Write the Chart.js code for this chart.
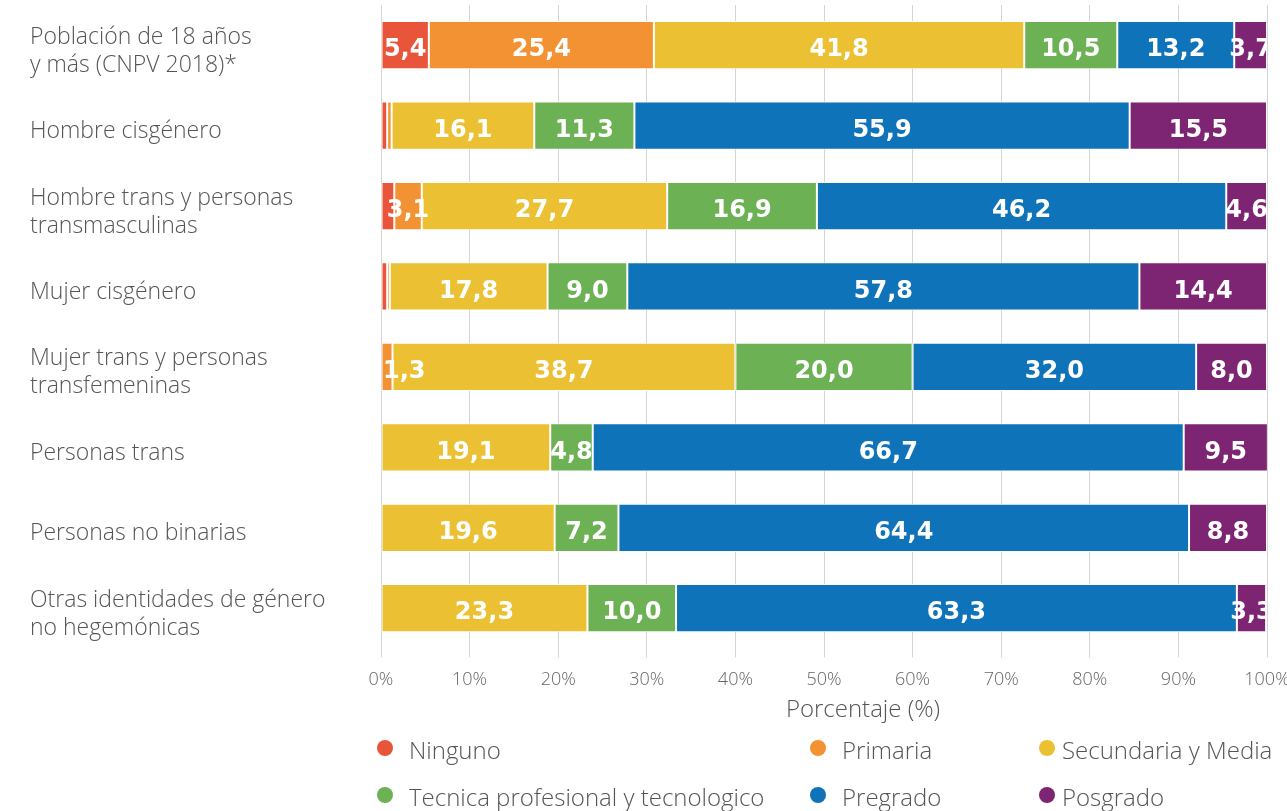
<!DOCTYPE html>
<html lang="es">
<head>
<meta charset="utf-8">
<title>Nivel educativo por identidad de género</title>
<script src="https://cdn.jsdelivr.net/npm/chart.js@4/dist/chart.umd.min.js"></script>
<style>
  html, body { margin: 0; padding: 0; background: #fff; }
  #wrap { width: 1287px; height: 811px; }
</style>
</head>
<body>
<div id="wrap"><canvas id="eduChart"></canvas></div>
<script>
'use strict';

// #region ***  Data                                     ***********
const categories = [
  ['Población de 18 años', 'y más (CNPV 2018)*'],
  'Hombre cisgénero',
  ['Hombre trans y personas', 'transmasculinas'],
  'Mujer cisgénero',
  ['Mujer trans y personas', 'transfemeninas'],
  'Personas trans',
  'Personas no binarias',
  ['Otras identidades de género', 'no hegemónicas']
];
const seriesNames = ['Ninguno', 'Primaria', 'Secundaria y Media', 'Tecnica profesional y tecnologico', 'Pregrado', 'Posgrado'];
const ninguno    = [5.4, 0.7, 1.5, 0.7, 0, 0, 0, 0];
const primaria   = [25.4, 0.5, 3.1, 0.3, 1.3, 0, 0, 0];
const secundaria = [41.8, 16.1, 27.7, 17.8, 38.7, 19.1, 19.6, 23.3];
const tecnica    = [10.5, 11.3, 16.9, 9.0, 20.0, 4.8, 7.2, 10.0];
const pregrado   = [13.2, 55.9, 46.2, 57.8, 32.0, 66.7, 64.4, 63.3];
const posgrado   = [3.7, 15.5, 4.6, 14.4, 8.0, 9.5, 8.8, 3.3];
const xTicks = [0, 10, 20, 30, 40, 50, 60, 70, 80, 90, 100];
const xTitle = 'Porcentaje (%)';
const colors = ['#E9553A', '#F29232', '#EBC133', '#6DB155', '#0F73BA', '#7D2573'];
// #endregion

const fontFam = "'Open Sans', 'DejaVu Sans', sans-serif";
const fmt = function (v) {
  return v.toFixed(1).replace('.', ',');
};

// labels in the bars (white, bold)
const barLabels = {
  id: 'barLabels',
  afterDatasetsDraw(chart) {
    const ctx = chart.ctx;
    const area = chart.chartArea;
    ctx.save();
    ctx.beginPath();
    ctx.rect(area.left, area.top, area.right - area.left, area.bottom - area.top);
    ctx.clip();
    ctx.font = "bold 24px 'DejaVu Sans', sans-serif";
    ctx.fillStyle = '#ffffff';
    ctx.textBaseline = 'middle';
    chart.data.datasets.forEach(function (ds, i) {
      const meta = chart.getDatasetMeta(i);
      meta.data.forEach(function (bar, j) {
        const v = ds.data[j];
        if (v < 1.25 || (i === 0 && v < 2)) return;
        const p = bar.getProps(['x', 'base', 'y'], true);
        const txt = fmt(v);
        const w = ctx.measureText(txt).width;
        let cx = (p.x + p.base) / 2;
        if (cx - w / 2 < area.left + 2) cx = area.left + 2 + w / 2;
        ctx.textAlign = 'center';
        ctx.fillText(txt, cx, p.y + 5);
      });
    });
    ctx.restore();
  }
};

// axis title + legend laid out in a 3 column grid
const gridLegend = {
  id: 'gridLegend',
  afterDraw(chart) {
    const ctx = chart.ctx;
    const area = chart.chartArea;
    const left = area.left;
    const colX = [left + 4, left + 437, left + 666];
    const gap = [24, 24, 15];
    const rowY = [752, 799];
    ctx.save();
    ctx.textBaseline = 'middle';
    ctx.textAlign = 'center';
    ctx.fillStyle = '#555555';
    ctx.font = '300 24px ' + fontFam;
    ctx.fillText(xTitle, (area.left + area.right) / 2 + 39, 710);

    ctx.textAlign = 'left';
    chart.data.datasets.forEach(function (ds, i) {
      const c = i % 3;
      const r = Math.floor(i / 3);
      ctx.fillStyle = ds.backgroundColor;
      ctx.beginPath();
      ctx.arc(colX[c], rowY[r] - 4, 8, 0, Math.PI * 2);
      ctx.fill();
      ctx.fillStyle = '#555555';
      ctx.fillText(ds.label, colX[c] + gap[c], rowY[r]);
    });
    ctx.restore();
  }
};

const init = function () {
  const series = [ninguno, primaria, secundaria, tecnica, pregrado, posgrado];
  const datasets = series.map(function (arr, i) {
    return {
      label: seriesNames[i],
      data: arr,
      backgroundColor: colors[i],
      borderColor: '#ffffff',
      borderWidth: 1,
      borderSkipped: false,
      categoryPercentage: 0.6,
      barPercentage: 1
    };
  });

  const config = {
    type: 'bar',
    data: { labels: categories, datasets: datasets },
    options: {
      indexAxis: 'y',
      responsive: true,
      maintainAspectRatio: false,
      animation: false,
      layout: { padding: { left: 30, right: 20, top: 5, bottom: 108 } },
      plugins: {
        legend: { display: false },
        tooltip: { enabled: false }
      },
      scales: {
        x: {
          stacked: true,
          min: 0,
          max: 100,
          afterBuildTicks: function (axis) {
            axis.ticks = xTicks.map(function (v) { return { value: v }; });
          },
          afterFit: function (axis) {
            axis.paddingLeft = 0;
            axis.paddingRight = 0;
          },
          grid: { color: '#d4d4d4', lineWidth: 1, tickLength: 9 },
          border: { display: false },
          ticks: {
            color: '#666666',
            padding: 12,
            maxRotation: 0,
            font: { family: fontFam, size: 18, weight: 300 },
            callback: function (v) { return v + '%'; }
          }
        },
        y: {
          stacked: true,
          grid: { display: false },
          border: { display: false },
          afterFit: function (axis) {
            axis.width = 351;
            axis.paddingTop = 0;
            axis.paddingBottom = 0;
          },
          ticks: {
            crossAlign: 'far',
            labelOffset: 6,
            color: '#555555',
            font: { family: fontFam, size: 23, weight: 300, lineHeight: 1.22 }
          }
        }
      }
    },
    plugins: [barLabels, gridLegend]
  };

  new Chart(document.getElementById('eduChart').getContext('2d'), config);
};

document.addEventListener('DOMContentLoaded', init);
</script>
</body>
</html>
